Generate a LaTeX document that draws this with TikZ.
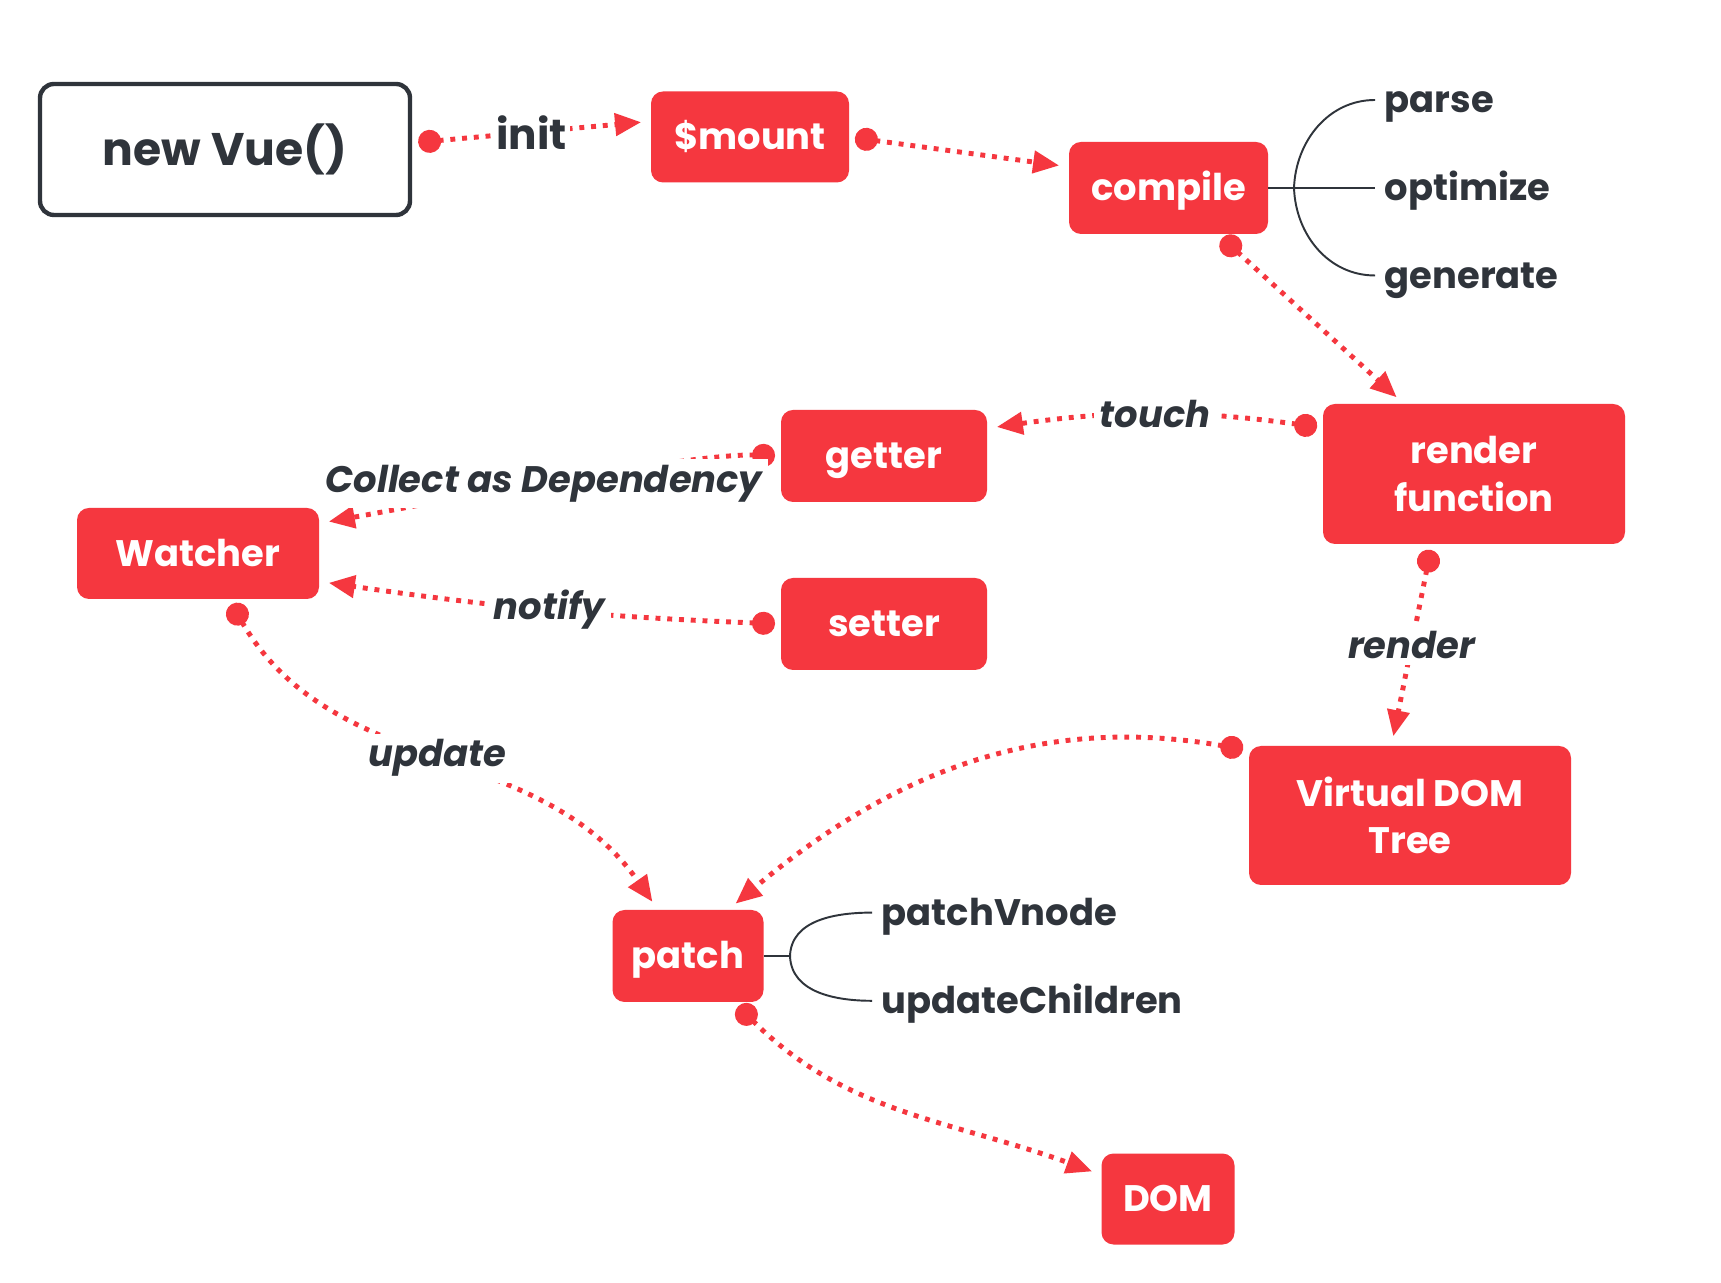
\documentclass[tikz,border=0pt]{standalone}
\usepackage{fontspec}
\setmainfont{Poppins}
\usetikzlibrary{arrows.meta}
\definecolor{vueRed}{HTML}{F5373F}
\definecolor{inkColor}{HTML}{2F343B}
\tikzset{
	box/.style={fill=vueRed, text=white, rounded corners=1.2mm, inner sep=0, outer sep=0,
		font=\fontsize{10.5}{13.5}\selectfont\bfseries, align=center},
	oneline/.style={text height=8.6pt, text depth=1.3pt},
	flow/.style={vueRed, line width=1.4pt, dash pattern=on 1.4pt off 1.95pt,
		{Circle[length=2.3mm]}-{Triangle[length=2.6mm,width=2.2mm]},
		shorten <=0.6mm, shorten >=1mm},
	lab/.style={fill=white, text=inkColor, inner sep=0.6mm,
		font=\fontsize{10.5}{13}\selectfont\bfseries\itshape},
	leaf/.style={anchor=west, text=inkColor, inner sep=0.9mm, text height=7.4pt, text depth=0pt,
		font=\fontsize{10.5}{13}\selectfont\bfseries},
	bracket/.style={draw=inkColor, line width=0.55pt}
}
\begin{document}
\begin{tikzpicture}
	\fill[white] (0,0) rectangle (17.21,-12.83);
	\useasboundingbox (0,0) rectangle (17.21,-12.83);
	\node[draw=inkColor, line width=1.25pt, rounded corners=1.4mm, minimum width=3.7cm, minimum height=1.31cm,
		text=inkColor, font=\fontsize{13}{15}\selectfont\bfseries] (vue) at (2.25,-1.495) {new Vue()};
	\node[box, oneline, minimum width=1.98cm, minimum height=0.91cm] (mount) at (7.50,-1.37) {\$mount};
	\node[box, oneline, minimum width=1.99cm, minimum height=0.92cm] (compile) at (11.685,-1.88) {compile};
	\node[box, minimum width=3.02cm, minimum height=1.40cm] (render) at (14.74,-4.74) {render\\function};
	\node[box, oneline, minimum width=2.06cm, minimum height=0.92cm] (getter) at (8.84,-4.56) {getter};
	\node[box, oneline, minimum width=2.06cm, minimum height=0.92cm] (setter) at (8.84,-6.24) {setter};
	\node[box, oneline, minimum width=2.42cm, minimum height=0.91cm] (watcher) at (1.98,-5.535) {Watcher};
	\node[box, oneline, minimum width=1.51cm, minimum height=0.92cm] (patch) at (6.88,-9.56) {patch};
	\node[box, minimum width=3.22cm, minimum height=1.39cm] (vdom) at (14.10,-8.155) {Virtual DOM\\Tree};
	\node[box, oneline, minimum width=1.33cm, minimum height=0.91cm] (dom) at (11.68,-11.99) {DOM};

	\node[leaf] (parse) at (13.75,-1.00) {parse};
	\node[leaf] (optimize) at (13.75,-1.88) {optimize};
	\node[leaf] (generate) at (13.75,-2.755) {generate};
	\coordinate (cfork) at (12.94,-1.88);
	\draw[bracket] (compile.east) -- (cfork) -- (optimize.west);
	\draw[bracket] (cfork) to[out=88,in=180] (parse.west);
	\draw[bracket] (cfork) to[out=-88,in=180] (generate.west);

	\node[leaf] (vnode) at (8.72,-9.126) {patchVnode};
	\node[leaf] (children) at (8.72,-10.008) {updateChildren};
	\coordinate (pfork) at (7.90,-9.56);
	\draw[bracket] (patch.east) -- (pfork);
	\draw[bracket] (pfork) to[out=88,in=180] (vnode.west);
	\draw[bracket] (pfork) to[out=-88,in=180] (children.west);

	\draw[flow] (vue.2) -- node[lab, inner sep=0.3mm, font=\fontsize{12}{14}\selectfont\bfseries] {init} (mount.171);
	\draw[flow] (mount.east) -- (compile.168);
	\draw[flow] (compile.-43) -- (render.135);
	\draw[flow] (render.163) to[bend right=8] node[lab] {touch} (getter.15);
	\draw[flow] (getter.west) to[out=178,in=10,looseness=0.5] node[lab, pos=0.51] {Collect as Dependency} (watcher.14);
	\draw[flow] (setter.west) to[bend left=3] node[lab] {notify} (watcher.-13);
	\draw[flow] (watcher.-56) to[out=-60,in=125] node[lab] {update} (patch.123);
	\draw[flow] (render.239) -- node[lab] {render} (vdom.105);
	\draw[flow] (vdom.158) to[out=170,in=40] (patch.49);
	\draw[flow] (patch.-45) to[out=-45,in=160] (dom.160);
\end{tikzpicture}
\end{document}
